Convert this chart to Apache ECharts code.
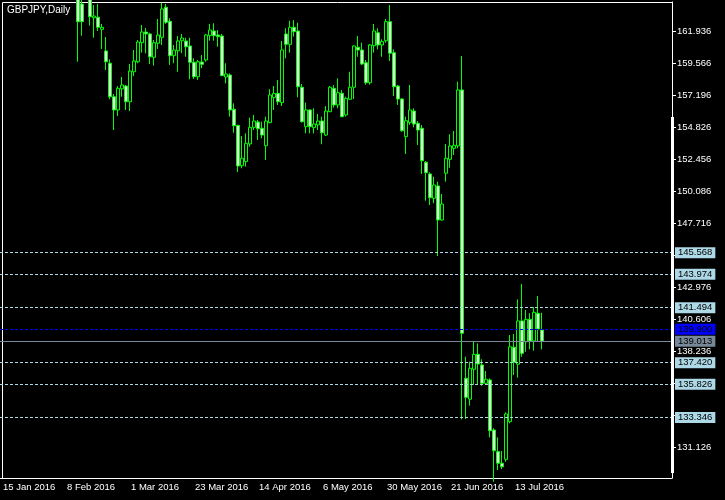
<!DOCTYPE html>
<html><head><meta charset="utf-8">
<script src="https://cdn.jsdelivr.net/npm/echarts@6/dist/echarts.min.js"></script>
<style>html,body{margin:0;padding:0;background:#000}#c{width:725px;height:500px}</style>
</head><body><div id="c"></div>
<script>
const chartTitle = 'GBPJPY,Daily';
const slotCount = 168;          // bar slots on the time axis
const firstBar = 19;            // index of first bar with a visible candle
const lastLabelIndex = 128;     // last labelled date on the time axis
// [open, close, low, high] per daily bar, starting at firstBar (null = entirely above view)
const ohlc = [
  [164.50,162.68,159.71,165.20],[163.99,162.68,161.64,164.60],null,[164.40,163.05,162.38,164.80],
  [162.97,163.10,161.49,163.91],[163.00,162.26,161.99,163.99],[162.11,162.26,160.65,162.51],
  [160.51,159.71,159.10,161.54],[159.60,157.12,156.93,159.89],[157.12,156.14,154.65,157.32],
  [156.14,157.74,155.69,157.91],[157.71,157.99,157.12,158.58],[157.91,156.75,156.14,157.99],
  [156.75,159.02,156.06,159.54],[158.97,159.77,158.65,160.58],[159.71,161.17,159.60,161.32],
  [161.12,161.91,160.38,162.43],[161.91,161.77,160.34,162.21],[161.77,160.08,159.54,161.86],
  [160.04,161.12,159.42,161.32],[161.08,161.69,160.65,162.88],[161.52,163.62,160.95,164.08],
  [163.74,162.63,162.51,163.99],[162.71,160.16,159.47,162.93],[160.16,160.58,159.60,160.95],
  [160.53,161.25,158.97,161.62],[161.27,161.47,160.34,161.77],[161.25,160.82,160.08,161.49],
  [160.88,159.67,158.41,161.49],[159.67,158.60,158.43,159.97],[158.60,159.71,158.36,159.84],
  [159.69,159.52,159.23,160.21],[159.84,161.69,159.71,161.77],[161.64,162.06,161.27,162.51],
  [161.99,161.64,161.27,162.56],[161.69,161.57,160.82,162.06],[161.62,158.68,158.65,161.77],
  [158.58,158.80,158.11,159.60],[158.73,156.14,155.64,158.85],[156.19,154.97,154.45,156.63],
  [155.00,151.99,151.54,155.03],[152.01,152.56,151.82,154.21],[152.31,153.67,151.94,154.41],
  [153.62,154.85,153.42,155.57],[154.85,155.32,154.65,155.77],[155.25,154.75,153.91,155.40],
  [154.78,154.28,154.04,155.27],[153.49,155.32,152.43,155.64],[155.20,157.25,155.15,157.67],
  [157.05,157.37,156.14,157.91],[157.37,156.75,156.51,158.36],[156.68,160.58,156.43,161.25],
  [161.77,161.00,159.97,162.19],[161.00,162.26,160.38,162.75],[162.26,161.94,161.57,162.80],
  [161.99,157.86,157.08,162.60],[157.82,155.27,155.20,158.06],[154.90,156.14,154.41,156.68],
  [156.14,154.90,154.41,156.18],[154.83,155.10,154.41,156.26],[155.03,155.32,154.65,155.84],
  [155.32,154.45,153.60,155.64],[154.28,156.06,154.21,156.43],[156.01,157.82,155.98,157.91],
  [157.74,156.51,156.31,157.99],[156.51,157.42,156.26,158.48],[157.37,155.64,155.60,157.62],
  [155.77,157.00,155.64,157.12],[156.93,157.82,156.90,158.97],[157.82,160.88,156.95,160.92],
  [160.78,160.58,160.08,161.62],[160.58,159.54,159.47,161.12],[159.64,158.16,158.01,159.84],
  [158.16,160.95,158.01,161.03],[160.90,161.99,160.38,162.51],[161.86,160.95,160.63,162.19],
  [160.95,161.20,160.08,161.37],[161.27,162.68,161.12,162.88],[162.68,160.34,159.77,163.91],
  [160.38,157.86,157.17,160.63],[157.91,156.95,156.51,157.99],[156.95,154.60,154.53,157.00],
  [154.16,155.34,152.88,155.64],[155.20,156.14,155.03,157.99],[156.06,155.10,154.85,156.26],
  [155.15,154.65,153.54,155.32],[154.78,152.38,151.40,155.03],[152.26,151.49,149.42,152.36],
  [151.40,149.64,149.10,151.52],[149.60,150.58,149.23,151.20],[150.51,147.99,145.32,150.83],
  [147.99,149.17,147.94,149.91],[151.45,152.56,150.83,153.62],[152.48,153.47,151.86,154.34],
  [153.30,153.52,152.80,154.58],[153.47,157.62,153.30,158.23],[157.62,139.60,133.22,160.14],
  [136.26,134.85,133.25,137.86],[134.71,137.00,134.23,137.49],[136.93,138.04,135.77,138.97],
  [138.04,137.32,135.77,138.85],[137.25,135.89,135.71,137.67],[135.89,136.19,135.85,136.80],
  [136.14,132.38,131.89,136.26],[132.43,130.90,128.60,132.56],[130.83,129.97,129.47,131.89],
  [129.97,129.71,129.54,130.88],[130.26,133.62,130.08,133.74],[133.05,138.60,132.93,139.47],
  [138.56,137.45,136.51,139.54],[137.30,140.51,136.31,142.11],[140.51,138.11,137.86,143.25],
  [138.97,140.63,138.23,141.32],[140.63,139.03,138.41,141.08],[139.03,141.15,138.31,141.54],
  [141.08,139.91,138.95,142.36],[139.84,139.013,138.41,141.12]
];
const priceTicks = [131.126,133.496,135.866,138.236,140.606,142.976,145.346,147.716,150.086,152.456,154.826,157.196,159.566,161.936];
const levelLines = [145.568,143.974,141.494,137.420,135.826,133.346];
const askLevel = 139.900;
const bidLevel = 139.013;
const priceMin = 128.877, priceMax = 164.136;
const monthNames = ['Jan','Feb','Mar','Apr','May','Jun','Jul','Aug','Sep','Oct','Nov','Dec'];

// trading-day categories (weekdays) starting 15 Jan 2016
const categories = [];
const d = new Date(Date.UTC(2016, 0, 15));
while (categories.length < slotCount) {
  const wd = d.getUTCDay();
  if (wd !== 0 && wd !== 6) categories.push(d.getUTCDate() + ' ' + monthNames[d.getUTCMonth()] + ' ' + d.getUTCFullYear());
  d.setUTCDate(d.getUTCDate() + 1);
}
const candleData = categories.map((c, i) => {
  const r = ohlc[i - firstBar];
  return r ? r : ['-','-','-','-'];
});

const FONT = 'Liberation Sans';
const chart = echarts.init(document.getElementById('c'), null, {renderer: 'canvas'});
const lblBox = (bg, v) => ({show: true, position: 'end', distance: 3, formatter: v.toFixed(3),
  backgroundColor: bg, color: '#000', fontFamily: FONT, fontSize: 9.5, lineHeight: 10, padding: [1, 3, 0, 3]});
const showDate = (i) => i % 16 === 0 && i <= lastLabelIndex;
chart.setOption({
  backgroundColor: '#000',
  animation: false,
  grid: {left: 0, right: 53, top: 2, bottom: 22},
  xAxis: {
    type: 'category', data: categories, boundaryGap: true,
    axisLine: {lineStyle: {color: '#fff', width: 1}},
    axisTick: {interval: showDate, alignWithLabel: true, length: 4, lineStyle: {color: '#fff'}},
    axisLabel: {interval: showDate, color: '#fff', fontFamily: FONT, fontSize: 9.5, align: 'left', margin: 4, padding: [0,0,0,1]},
    splitLine: {show: false}
  },
  yAxis: {
    type: 'value', position: 'right', min: priceMin, max: priceMax, scale: true,
    axisLine: {show: true, lineStyle: {color: '#fff', width: 1}},
    axisTick: {show: true, length: 4, customValues: priceTicks, lineStyle: {color: '#fff'}},
    axisLabel: {color: '#fff', fontFamily: FONT, fontSize: 9.5, margin: 5, customValues: priceTicks, formatter: v => Number(v).toFixed(3)},
    splitLine: {show: false}
  },
  graphic: [
    {type: 'line', shape: {x1: 2.5, y1: 2.5, x2: 672.5, y2: 2.5}, style: {stroke: '#fff', lineWidth: 1}, silent: true},
    {type: 'line', shape: {x1: 2.5, y1: 2.5, x2: 2.5, y2: 478.5}, style: {stroke: '#fff', lineWidth: 1}, silent: true},
    {type: 'rect', shape: {x: 671, y: 117, width: 3, height: 356}, style: {fill: '#fff'}, silent: true, z: 50},
    {type: 'text', left: 7, top: 5, style: {text: chartTitle, fill: '#fff', font: '10px "Liberation Sans"'}, silent: true}
  ],
  series: [{
    type: 'candlestick', data: candleData, barWidth: 3, clip: true,
    itemStyle: {color: '#000', color0: '#fff', borderColor: '#00ff00', borderColor0: '#00ff00', borderWidth: 1},
    emphasis: {disabled: true}, silent: true,
    markLine: {
      symbol: 'none', silent: true, animation: false,
      data: levelLines.map(v => ({yAxis: v, lineStyle: {color: '#add8e6', type: [3, 2], width: 1}, label: lblBox('#add8e6', v)}))
        .concat([
          {yAxis: askLevel, lineStyle: {color: '#0000ff', type: [3, 2], width: 1}, label: lblBox('#0000ff', askLevel)},
          {yAxis: bidLevel, lineStyle: {color: '#778899', type: 'solid', width: 1}, label: lblBox('#778899', bidLevel)}
        ])
    }
  }]
});
</script></body></html>
